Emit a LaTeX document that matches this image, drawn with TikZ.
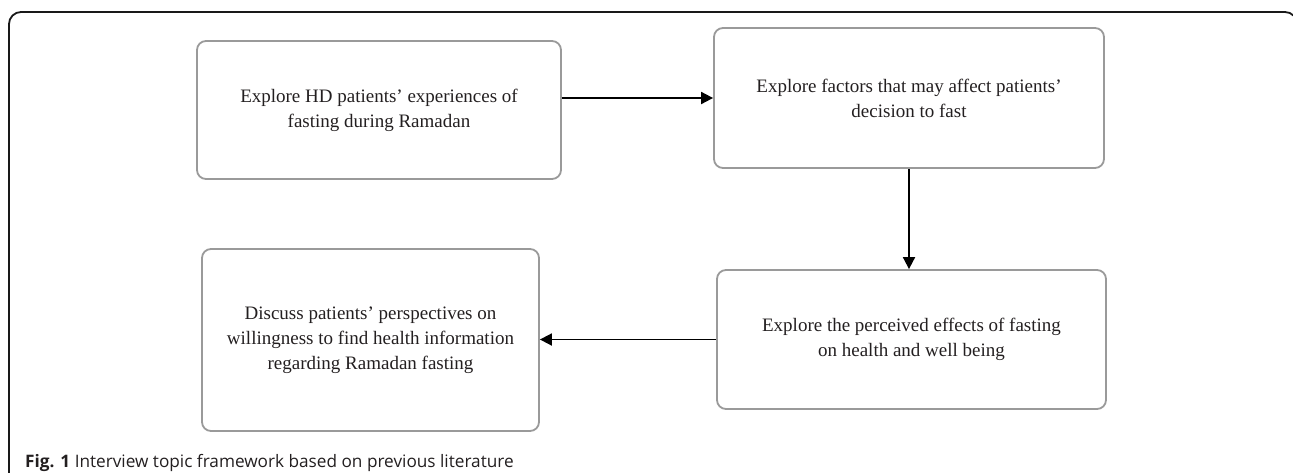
\documentclass[tikz,border=0pt]{standalone}
\usepackage{fontspec}
\setmainfont{Liberation Serif}
\newfontfamily\capfont{Open Sans}
\usetikzlibrary{arrows.meta,calc}
\definecolor{boxgray}{HTML}{9A9A9A}
\definecolor{txt}{HTML}{231F20}
\begin{document}
\begin{tikzpicture}[x=1pt,y=-1pt,
  topicbox/.style={draw=boxgray, line width=1.8pt, rounded corners=9pt, rectangle, inner sep=0pt,
    align=center, text=txt, font=\fontsize{19}{25}\selectfont},
  flow/.style={draw=black, line width=1.8pt, -{Triangle[length=12pt,width=12pt]}},
  frame/.style={draw=black!90, line width=1.8pt, rounded corners=12pt}]
\useasboundingbox (0,0) rectangle (1293,472);
\draw[frame] (9,490) -- (9,12) -- (1297,12) -- (1297,490);
\node[topicbox, minimum width=364pt, minimum height=138pt] (b1) at (379,110)
  {Explore HD patients’ experiences of\\fasting during Ramadan};
\node[topicbox, minimum width=390pt, minimum height=140pt] (b2) at (909,98)
  {Explore factors that may affect patients’\\decision to fast};
\node[topicbox, minimum width=389pt, minimum height=139pt] (b3) at (911.5,339.5)
  {Explore the perceived effects of fasting\\on health and well being};
\node[topicbox, minimum width=337pt, minimum height=182pt] (b4) at (370.5,340)
  {Discuss patients’ perspectives on\\willingness to find health information\\regarding Ramadan fasting};
\draw[flow] (b2.west -| b1.east) -- (b2.west);
\draw[flow] (b2.south) -- (b2.south |- b3.north);
\draw[flow] (b3.west) -- (b3.west -| b4.east);
\node[anchor=base west, inner sep=0pt, text=txt, font=\capfont\fontsize{17.2}{20}\selectfont] (cap) at (25,467)
  {\textbf{Fig. 1} Interview topic framework based on previous literature};
\end{tikzpicture}
\end{document}
